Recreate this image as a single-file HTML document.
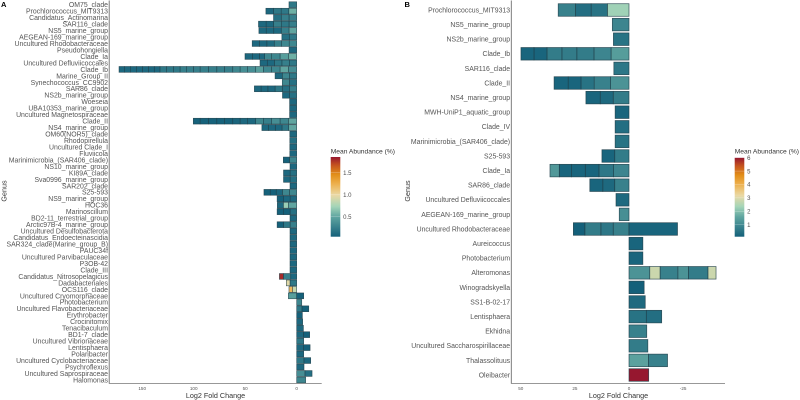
<!DOCTYPE html>
<html lang="en">
<head>
<meta charset="utf-8">
<title>Log2 fold change by genus</title>
<style>
html,body{margin:0;padding:0;background:#fff;}
svg{display:block;font-family:"Liberation Sans",Arial,sans-serif;}
</style>
</head>
<body>
<svg id="chart" width="800" height="400" viewBox="0 0 800 400" xmlns="http://www.w3.org/2000/svg">
  <defs>
    <linearGradient id="abundance-gradient" x1="0" y1="1" x2="0" y2="0">
      <stop offset="0" stop-color="#14607a"/>
      <stop offset="0.25" stop-color="#5fa5a0"/>
      <stop offset="0.38" stop-color="#a4d5b8"/>
      <stop offset="0.52" stop-color="#ead9a5"/>
      <stop offset="0.66" stop-color="#edb14f"/>
      <stop offset="0.78" stop-color="#e28e18"/>
      <stop offset="0.9" stop-color="#c4521f"/>
      <stop offset="1" stop-color="#96172f"/>
    </linearGradient>
  </defs>
  <text x="1" y="7" font-size="7.5" font-weight="bold" fill="#000">A</text>
  <text x="404.5" y="7" font-size="7.5" font-weight="bold" fill="#000">B</text>
  <text x="215.5" y="398" font-size="7.2" text-anchor="middle" fill="#333">Log2 Fold Change</text>
  <text x="618.5" y="398" font-size="7.2" text-anchor="middle" fill="#333">Log2 Fold Change</text>
  <text transform="translate(6.5,191) rotate(-90)" font-size="7.2" text-anchor="middle" fill="#333">Genus</text>
  <text transform="translate(410,191) rotate(-90)" font-size="7.2" text-anchor="middle" fill="#333">Genus</text>
  <text x="330.7" y="153.3" font-size="6.7" fill="#333">Mean Abundance (%)</text>
  <text x="734.7" y="153.3" font-size="6.7" fill="#333">Mean Abundance (%)</text>
  <g id="panel-a"></g>
  <g id="panel-b"></g>
</svg>
<script>
const genusA = ["OM75_clade","Prochlorococcus_MIT9313","Candidatus_Actinomarina","SAR116_clade","NS5_marine_group","AEGEAN-169_marine_group","Uncultured Rhodobacteraceae","Pseudohongiella","Clade_Ia","Uncultured Defluviicoccales","Clade_Ib","Marine_Group_II","Synechococcus_CC9902","SAR86_clade","NS2b_marine_group","Woeseia","UBA10353_marine_group","Uncultured Magnetospiraceae","Clade_II","NS4_marine_group","OM60(NOR5)_clade","Rhodopirellula","Uncultured Clade_I","Fluviicola","Marinimicrobia_(SAR406_clade)","NS10_marine_group","KI89A_clade","Sva0996_marine_group","SAR202_clade","S25-593","NS9_marine_group","HOC36","Marinoscillum","BD2-11_terrestrial_group","Arctic97B-4_marine_group","Uncultured Desulfobacterota","Candidatus_Endoecteinascidia","SAR324_clade(Marine_group_B)","PAUC34f","Uncultured Parvibaculaceae","P3OB-42","Clade_III","Candidatus_Nitrosopelagicus","Dadabacteriales","OCS116_clade","Uncultured Cryomorphaceae","Photobacterium","Uncultured Flavobacteriaceae","Erythrobacter","Crocinitomix","Tenacibaculum","BD1-7_clade","Uncultured Vibrionaceae","Lentisphaera","Polaribacter","Uncultured Cyclobacteriaceae","Psychroflexus","Uncultured Saprospiraceae","Halomonas"];
const foldA = [[7.5],[7.7,7.4,7.4,7.4],[7.5,7.5,7.5],[7.5,7.5,7.5,7.2,7.4],[7.5,7.5,7.3,7.3,7.1],[7.2,7.2],[7.3,7.3,7.2,7.2,7.2,7],[7.4],[8.1,8.1,8.1,6.8,5.2,6.8,7.1],[7.2,7.2,7.2,7,7],[8.1,8.1,8.4,7.8,7.4,7.8,7.4,7.1,8.1,7.4,8.1,8.1,6.5,6.5,6.5,6.5,6.5,6.5,5.5,5.5,5.8,5.8,5.8,5.8,5.5],[7,7,7],[7,7],[7,7,7,7,6.6,6.5],[7,6.8],[6.9],[6.9],[6.9],[8.1,8.1,8.4,7.8,7.4,7.8,7.4,7.1,8.1,7.4,8.1,8.1,6.6],[7.8,6.5,6.5,6.5,6.5],[6.7],[6.7],[6.7],[6.7],[7,6],[6.5],[6.4,6.4],[6.4,6.4],[6.5],[7.1,6.8,6,5.8,6.1],[6.4,6.3,6.3],[8.1,4.9,5.8],[6.4,6.3,6.3],[6.5],[6.4,6.3,6.3],[6.5],[6.5],[6.5],[6.5],[6.5],[6.5],[6.5],[5.8,7.1,3.9],[6.5,3.6],[3.9,3.6],[8.1,-6.8],[-4.9],[-5.2,-6.5],[-5.5],[-5.8],[-6.5],[-6.5,-6.1],[-6.8],[-6.5,-6.5],[-6.8],[-7.1,-6.5],[-7.1],[-8.1,-6.8],[-8.7]];
const abundA = [[.2],[.55,.2,.2,.1],[.25,.25,.15],[.25,.2,.25,.1,.1],[.5,.25,.1,.1,.1],[.2,.15],[.3,.3,.25,.12,.1,.1],[.1],[.55,.45,.3,.3,.1,.1,.1],[.2,.25,.2,.1,.1],[.35,.5,.3,.3,.45,.35,.35,.3,.25,.25,.25,.25,.25,.25,.25,.2,.2,.2,.1,.1,.1,.1,.1,.1,.1],[.2,.3,.1],[.15,.3],[.25,.15,.2,.1,.1,.1],[.15,.1],[.1],[.1],[.1],[.5,.3,.35,.25,.3,.1,.1,.08,.06,.06,.06,.06,.06],[.5,.2,.1,.1,.1],[.1],[.15],[.1],[.1],[.3,.05],[.1],[.15,.1],[.15,.1],[.1],[.3,.3,.1,.05,.05],[.1,.1,.05],[.5,.7,.1],[.15,.05,.05],[.1],[.25,.2,.05],[.1],[.1],[.1],[.1],[.1],[.1],[.1],[.1,.25,1.8],[.2,.95],[.85,1.2],[.45,.05],[.3],[.2,.05],[.05],[.1],[.1],[.1,.05],[.2],[.1,.05],[.1],[.2,.1],[.1],[.35,.15],[.3]];
const ticksA = [150,100,50,0];
const legendTicksA = [0.5,1.0,1.5];

const genusB = ["Prochlorococcus_MIT9313","NS5_marine_group","NS2b_marine_group","Clade_Ib","SAR116_clade","Clade_II","NS4_marine_group","MWH-UniP1_aquatic_group","Clade_IV","Marinimicrobia_(SAR406_clade)","S25-593","Clade_Ia","SAR86_clade","Uncultured Defluviicoccales","AEGEAN-169_marine_group","Uncultured Rhodobacteraceae","Aureicoccus","Photobacterium","Alteromonas","Winogradskyella","SS1-B-02-17","Lentisphaera","Ekhidna","Uncultured Saccharospirillaceae","Thalassolituus","Oleibacter"];
const foldB = [[10,7.5,7.2,8],[7.7],[7.2],[8.3,7.9,7.9,6.9,6.9,6,6],[7],[8.5,7.6,6.1,5.9,6.5],[7.3,6,6.6],[6.4],[6.4],[6.4],[6.6,5.9],[7.1,6.8,6.3,6.3,5.7,4.3],[6.6,5.5,6],[6],[4.5],[7.3,5.7,7.4,5.3,-22.4],[-6.4],[-6.4],[-9.6,-4.8,-8.2,-4.9,-9,-3.7],[-7],[-7.5],[-8,-7.1],[-8.2],[-8.7],[-9,-8.8],[-9.1]];
const abundB = [[2.3,.5,.4,.8],[.9],[.5],[1.4,.9,.7,.7,.7,.2,.2],[.6],[1.2,.8,.5,.2,.2],[.7,.3,.2],[.2],[.4],[.5],[.7,.2],[.9,.6,.2,.2,.2,1.3],[.8,.3,.2],[.3],[1.1],[.8,.6,.7,.1,.2],[.2],[.2],[1.2,2.8,.8,1.2,.7,2.8],[.1],[.3],[.5,.4],[.8],[.7],[1.5,.8],[6]];
const ticksB = [50,25,0,-25];
const legendTicksB = [1,2,3,4,5,6];

const NS = "http://www.w3.org/2000/svg";
const paletteStops = [[0,[20,96,122]],[.25,[95,165,160]],[.38,[164,213,184]],[.52,[234,217,165]],[.66,[237,177,79]],[.78,[226,142,24]],[.9,[196,82,31]],[1,[150,23,47]]];

function colour(t){
  t = Math.max(0, Math.min(1, t));
  for (let i = 1; i < paletteStops.length; i++) {
    if (t <= paletteStops[i][0]) {
      const a = paletteStops[i-1], b = paletteStops[i];
      const f = (t - a[0]) / (b[0] - a[0]);
      return "rgb(" + a[1].map((c, k) => Math.round(c + (b[1][k] - c) * f)).join(",") + ")";
    }
  }
  return "rgb(150,23,47)";
}

function make(parent, tag, attrs, text){
  const el = document.createElementNS(NS, tag);
  for (const k in attrs) el.setAttribute(k, attrs[k]);
  if (text !== undefined) el.textContent = text;
  parent.appendChild(el);
  return el;
}

function drawPanel(cfg){
  const g = document.getElementById(cfg.id);
  const x = v => cfg.x0 - v * cfg.xk;
  const y = i => cfg.y0 + i * cfg.step;
  const barH = cfg.step * cfg.fill;
  const colourOf = v => colour((v - cfg.aMin) / (cfg.aMax - cfg.aMin));

  cfg.genus.forEach((name, i) => {
    const label = make(g, "text", {x: cfg.axisX - 1.2, y: y(i) + cfg.labelSize * 0.35, "font-size": cfg.labelSize, "text-anchor": "end", fill: "#555"}, name);
    
    
    let pos = 0, neg = 0;
    cfg.fold[i].forEach((v, j) => {
      const start = v >= 0 ? pos : neg;
      const end = start + v;
      if (v >= 0) pos = end; else neg = end;
      const x1 = Math.min(x(start), x(end));
      const w = Math.abs(x(end) - x(start));
      const seg = make(g, "rect", {x: x1, y: y(i) - barH / 2, width: w, height: barH, fill: colourOf(cfg.abund[i][j]), stroke: "#1f3d48", "stroke-width": cfg.stroke, "stroke-opacity": 0.85});
      
      
    });
  });

  const axisY = make(g, "line", {x1: cfg.axisX, x2: cfg.axisX, y1: 0.5, y2: cfg.axisBottom, stroke: "#6e6e6e", "stroke-width": 0.9});
  
  
  const axisX = make(g, "line", {x1: cfg.axisX, x2: cfg.axisRight, y1: cfg.axisBottom, y2: cfg.axisBottom, stroke: "#8a8a8a", "stroke-width": 0.9});
  
  

  cfg.ticks.forEach(t => {
    const tick = make(g, "text", {x: x(t), y: cfg.axisBottom + 6.6, "font-size": 4.6, "text-anchor": "middle", fill: "#555"}, String(t));
    
    
  });

  const ly = v => cfg.lgBottom - (v - cfg.aMin) / (cfg.aMax - cfg.aMin) * (cfg.lgBottom - cfg.lgTop);
  const bar = make(g, "rect", {x: cfg.lgX, y: cfg.lgTop, width: 9.6, height: cfg.lgBottom - cfg.lgTop, fill: "url(#abundance-gradient)"});
  
  
  cfg.legendTicks.forEach(t => {
    const mark = make(g, "line", {x1: cfg.lgX, x2: cfg.lgX + 9.6, y1: ly(t), y2: ly(t), stroke: "#fff", "stroke-width": 0.3, "stroke-opacity": 0.7});
    
    
    const lab = make(g, "text", {x: cfg.lgX + 12.4, y: ly(t) + 2.2, "font-size": 6, fill: "#4d4d4d"}, cfg.legendFormat(t));
    
    
  });
}

drawPanel({id:"panel-a", genus:genusA, fold:foldA, abund:abundA, ticks:ticksA, legendTicks:legendTicksA,
  legendFormat:t=>t.toFixed(1), x0:296.7, xk:1.03, y0:4.7, step:6.47, fill:0.9, stroke:0.6, labelSize:6.9,
  axisX:109.2, axisBottom:383.6, axisRight:321.7, aMin:0.045, aMax:1.857, lgX:330.7, lgTop:157, lgBottom:236.7});
drawPanel({id:"panel-b", genus:genusB, fold:foldB, abund:abundB, ticks:ticksB, legendTicks:legendTicksB,
  legendFormat:t=>String(t), x0:629, xk:2.165, y0:10, step:14.6, fill:0.86, stroke:0.7, labelSize:6.9,
  axisX:511.3, axisBottom:383.6, axisRight:725, aMin:0.1, aMax:6, lgX:734.7, lgTop:157.7, lgBottom:236.7});
</script>
</body>
</html>
